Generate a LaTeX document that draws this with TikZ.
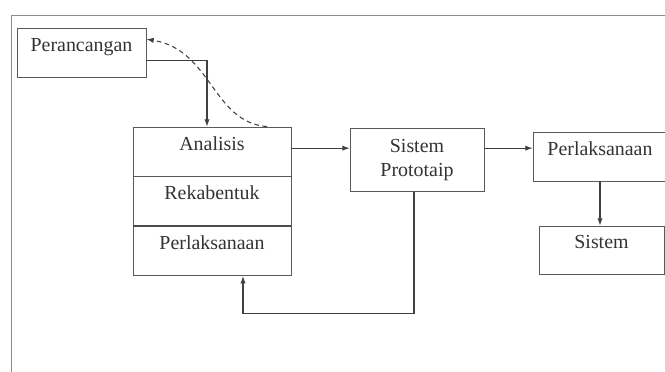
\documentclass[tikz,border=0pt]{standalone}
\usepackage{fontspec}
\setmainfont{Liberation Serif}
\usetikzlibrary{positioning, arrows.meta}

\begin{document}
\begin{tikzpicture}[x=0.03cm, y=-0.03cm, >={Latex[length=2.2mm, width=1.6mm]}, node distance=0pt,
    font=\fontsize{17}{21}\selectfont, text=black!80,
    box/.style={draw=black!65, line width=0.7pt, inner sep=0pt, text height=0.42cm, text depth=0.5cm},
    twoline/.style={draw=black!65, line width=0.7pt, align=center},
    link/.style={draw=black!75, line width=0.9pt}]
    \useasboundingbox (0,0) rectangle (665,372);
    \draw[black!45, line width=0.8pt] (11,372) -- (11,15) -- (665,15);

    \node[box, minimum width=3.87cm, minimum height=1.47cm] (per) at (81.5,52.5) {Perancangan};
    \node[box, minimum width=4.74cm, minimum height=1.47cm] (ana) at (212,151.5) {Analisis};
    \node[box, minimum width=4.74cm, minimum height=1.47cm, below=of ana] (rek) {Rekabentuk};
    \node[box, minimum width=4.74cm, minimum height=1.47cm, below=of rek] (pel) {Perlaksanaan};
    \draw[black!70, line width=1.3pt] (pel.north west) -- (pel.north east);
    \node[twoline, minimum width=4.02cm, minimum height=1.89cm] (pro) at (417,160) {Sistem\\Prototaip};
    \node[box, minimum width=4.02cm, minimum height=1.47cm] (lak) at (600,156.5) {Perlaksanaan};
    \node[box, minimum width=3.75cm, minimum height=1.44cm] (sis) at (601.5,250) {Sistem};

    \coordinate (a1) at ([yshift=0.1cm]ana.east);
    \draw[link, ->] ([yshift=-0.25cm]per.east) -| ([xshift=-0.15cm]ana.north);
    \draw[link, ->, dash pattern=on 4pt off 3pt] ([xshift=1.65cm]ana.north) .. controls (212,122) and (212,50) .. ([yshift=0.4cm]per.east);
    \draw[link, ->] (a1) -- (a1 -| pro.west);
    \draw[link, ->] (pro.east |- a1) -- (lak.west |- a1);
    \draw[link, ->] (lak.south) -- (lak.south |- sis.north);
    \draw[link, ->] ([xshift=-0.09cm]pro.south) -- ++(0,122) -| ([xshift=0.93cm]pel.south);
\end{tikzpicture}
\end{document}
